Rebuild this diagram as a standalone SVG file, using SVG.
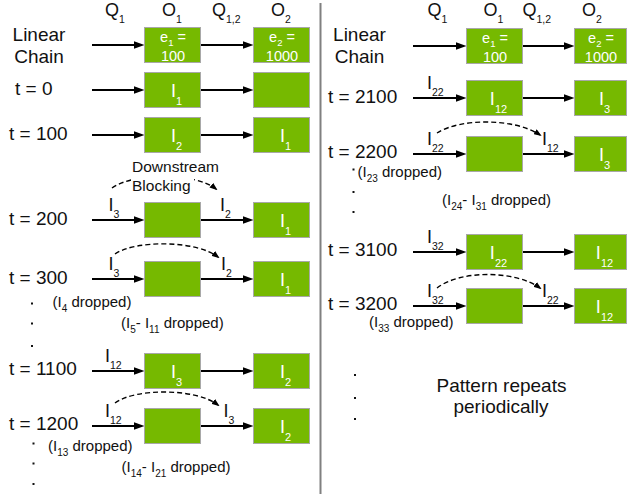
<svg xmlns="http://www.w3.org/2000/svg" width="627" height="494" viewBox="0 0 627 494">
<style>
text{font-family:"Liberation Sans",Arial,Helvetica,sans-serif;fill:#111}
.lbl{font-size:19px}
.mid{text-anchor:middle}
.hdr{font-size:18px}
.box{fill:#76b900;stroke:#a8a8a8;stroke-width:1}
text.bt{fill:#fff;font-size:18px;text-anchor:middle}
text.et{fill:#fff;font-size:14.5px;text-anchor:middle}
.al{font-size:18px}
.dr{font-size:15px}
.dot{fill:#111}
.arr{stroke:#000;stroke-width:2;fill:none;marker-end:url(#ah)}
.dash{stroke:#000;stroke-width:1.4;fill:none;stroke-dasharray:5 3;marker-end:url(#dh)}
</style>
<defs>
<marker id="ah" viewBox="0 0 11 8" refX="7" refY="4" markerWidth="11" markerHeight="8" markerUnits="userSpaceOnUse" orient="auto"><path d="M0,0 L11,4 L0,8 z" fill="#000"/></marker>
<marker id="dh" viewBox="0 0 8 6" refX="6" refY="3" markerWidth="8" markerHeight="6" markerUnits="userSpaceOnUse" orient="auto"><path d="M0,0 L8,3 L0,6 z" fill="#000"/></marker>
</defs>
<rect width="627" height="494" fill="#fff"/>
<line x1="320.5" y1="3" x2="320.5" y2="494" stroke="#808080" stroke-width="2"/>

<g id="connectors">
<line class="arr" x1="92" y1="45" x2="140.5" y2="45"/>
<line class="arr" x1="200.5" y1="45" x2="249.5" y2="45"/>
<line class="arr" x1="92" y1="90" x2="140.5" y2="90"/>
<line class="arr" x1="200.5" y1="90" x2="249.5" y2="90"/>
<line class="arr" x1="92" y1="135" x2="140.5" y2="135"/>
<line class="arr" x1="200.5" y1="135" x2="249.5" y2="135"/>
<line class="arr" x1="92" y1="220" x2="140.5" y2="220"/>
<line class="arr" x1="200.5" y1="220" x2="249.5" y2="220"/>
<line class="arr" x1="92" y1="279" x2="140.5" y2="279"/>
<line class="arr" x1="200.5" y1="279" x2="249.5" y2="279"/>
<line class="arr" x1="92" y1="371" x2="140.5" y2="371"/>
<line class="arr" x1="200.5" y1="371" x2="249.5" y2="371"/>
<line class="arr" x1="92" y1="426" x2="140.5" y2="426"/>
<line class="arr" x1="200.5" y1="426" x2="249.5" y2="426"/>
<line class="arr" x1="413" y1="46" x2="462.5" y2="46"/>
<line class="arr" x1="522.5" y1="46" x2="570.5" y2="46"/>
<line class="arr" x1="413" y1="98" x2="462.5" y2="98"/>
<line class="arr" x1="522.5" y1="98" x2="570.5" y2="98"/>
<line class="arr" x1="413" y1="154" x2="462.5" y2="154"/>
<line class="arr" x1="522.5" y1="154" x2="570.5" y2="154"/>
<line class="arr" x1="413" y1="252" x2="462.5" y2="252"/>
<line class="arr" x1="522.5" y1="252" x2="570.5" y2="252"/>
<line class="arr" x1="413" y1="306" x2="462.5" y2="306"/>
<line class="arr" x1="522.5" y1="306" x2="570.5" y2="306"/>
<path class="dash" d="M112,188 C132,173 195,172 216,189"/>
<path class="dash" d="M115,254 C135,240 196,240 218,257"/>
<path class="dash" d="M115,403 C135,388 196,388 218,405"/>
<path class="dash" d="M437,133 C460,118 515,118 540,135"/>
<path class="dash" d="M437,288 C460,270 515,270 540,288"/>
</g>

<g id="headers-left">
<text class="hdr" x="105" y="15.5">Q<tspan dy="7" font-size="10.5">1</tspan></text>
<text class="hdr" x="162" y="15.5">O<tspan dy="7" font-size="10.5">1</tspan></text>
<text class="hdr" x="212" y="15.5">Q<tspan dy="7" font-size="10.5">1,2</tspan></text>
<text class="hdr" x="271" y="15.5">O<tspan dy="7" font-size="10.5">2</tspan></text>
</g>
<g id="headers-right">
<text class="hdr" x="427.5" y="15.5">Q<tspan dy="7" font-size="10.5">1</tspan></text>
<text class="hdr" x="483.5" y="15.5">O<tspan dy="7" font-size="10.5">1</tspan></text>
<text class="hdr" x="522.5" y="15.5">Q<tspan dy="7" font-size="10.5">1,2</tspan></text>
<text class="hdr" x="582" y="15.5">O<tspan dy="7" font-size="10.5">2</tspan></text>
</g>

<g id="row-labels-left">
<text class="lbl mid" x="39" y="40.5">Linear</text>
<text class="lbl mid" x="39" y="63">Chain</text>
<text class="lbl" x="15" y="95">t = 0</text>
<text class="lbl" x="9" y="139.5">t = 100</text>
<text class="lbl" x="9" y="224.5">t = 200</text>
<text class="lbl" x="9" y="284">t = 300</text>
<text class="lbl" x="9" y="375">t = 1100</text>
<text class="lbl" x="9" y="430">t = 1200</text>
</g>
<g id="row-labels-right">
<text class="lbl mid" x="359.5" y="40.5">Linear</text>
<text class="lbl mid" x="359.5" y="63">Chain</text>
<text class="lbl" x="328" y="102.5">t = 2100</text>
<text class="lbl" x="328" y="157.5">t = 2200</text>
<text class="lbl" x="328" y="256">t = 3100</text>
<text class="lbl" x="328" y="310">t = 3200</text>
</g>

<g id="L-lc-o1"><rect class="box" x="144.5" y="27.5" width="56" height="35"/><text class="et" x="173" y="41.5">e<tspan dy="4.5" font-size="9.5">1</tspan><tspan dy="-4.5"> =</tspan></text><text class="et" x="173" y="60.5">100</text></g>
<g id="L-lc-o2"><rect class="box" x="253.5" y="27.5" width="56" height="35"/><text class="et" x="282" y="41.5">e<tspan dy="4.5" font-size="9.5">2</tspan><tspan dy="-4.5"> =</tspan></text><text class="et" x="282" y="60.5">1000</text></g>
<g id="L-t0-o1"><rect class="box" x="144.5" y="72.5" width="56" height="35"/><text class="bt" x="176.5" y="96.5">I<tspan dy="8" font-size="11">1</tspan></text></g>
<g id="L-t0-o2"><rect class="box" x="253.5" y="72.5" width="56" height="35"/></g>
<g id="L-t100-o1"><rect class="box" x="144.5" y="117.5" width="56" height="35"/><text class="bt" x="176.5" y="141.5">I<tspan dy="8" font-size="11">2</tspan></text></g>
<g id="L-t100-o2"><rect class="box" x="253.5" y="117.5" width="56" height="35"/><text class="bt" x="285.5" y="141.5">I<tspan dy="8" font-size="11">1</tspan></text></g>
<g id="L-t200-o1"><rect class="box" x="144.5" y="202.5" width="56" height="35"/></g>
<g id="L-t200-o2"><rect class="box" x="253.5" y="202.5" width="56" height="35"/><text class="bt" x="285.5" y="226.5">I<tspan dy="8" font-size="11">1</tspan></text></g>
<g id="L-t300-o1"><rect class="box" x="144.5" y="261.5" width="56" height="35"/></g>
<g id="L-t300-o2"><rect class="box" x="253.5" y="261.5" width="56" height="35"/><text class="bt" x="285.5" y="285.5">I<tspan dy="8" font-size="11">1</tspan></text></g>
<g id="L-t1100-o1"><rect class="box" x="144.5" y="353.5" width="56" height="35"/><text class="bt" x="176.5" y="377.5">I<tspan dy="8" font-size="11">3</tspan></text></g>
<g id="L-t1100-o2"><rect class="box" x="253.5" y="353.5" width="56" height="35"/><text class="bt" x="285.5" y="377.5">I<tspan dy="8" font-size="11">2</tspan></text></g>
<g id="L-t1200-o1"><rect class="box" x="144.5" y="408.5" width="56" height="35"/></g>
<g id="L-t1200-o2"><rect class="box" x="253.5" y="408.5" width="56" height="35"/><text class="bt" x="285.5" y="432.5">I<tspan dy="8" font-size="11">2</tspan></text></g>

<g id="R-lc-o1"><rect class="box" x="466.5" y="28.5" width="56" height="35"/><text class="et" x="495" y="42.5">e<tspan dy="4.5" font-size="9.5">1</tspan><tspan dy="-4.5"> =</tspan></text><text class="et" x="495" y="61.5">100</text></g>
<g id="R-lc-o2"><rect class="box" x="574.5" y="28.5" width="52" height="35"/><text class="et" x="601" y="42.5">e<tspan dy="4.5" font-size="9.5">2</tspan><tspan dy="-4.5"> =</tspan></text><text class="et" x="601" y="61.5">1000</text></g>
<g id="R-t2100-o1"><rect class="box" x="466.5" y="80.5" width="56" height="35"/><text class="bt" x="498.5" y="104.5">I<tspan dy="8" font-size="11">12</tspan></text></g>
<g id="R-t2100-o2"><rect class="box" x="574.5" y="80.5" width="52" height="35"/><text class="bt" x="604.5" y="104.5">I<tspan dy="8" font-size="11">3</tspan></text></g>
<g id="R-t2200-o1"><rect class="box" x="466.5" y="136.5" width="56" height="35"/></g>
<g id="R-t2200-o2"><rect class="box" x="574.5" y="136.5" width="52" height="35"/><text class="bt" x="604.5" y="160.5">I<tspan dy="8" font-size="11">3</tspan></text></g>
<g id="R-t3100-o1"><rect class="box" x="466.5" y="234.5" width="56" height="35"/><text class="bt" x="498.5" y="258.5">I<tspan dy="8" font-size="11">22</tspan></text></g>
<g id="R-t3100-o2"><rect class="box" x="574.5" y="234.5" width="52" height="35"/><text class="bt" x="604.5" y="258.5">I<tspan dy="8" font-size="11">12</tspan></text></g>
<g id="R-t3200-o1"><rect class="box" x="466.5" y="288.5" width="56" height="35"/></g>
<g id="R-t3200-o2"><rect class="box" x="574.5" y="288.5" width="52" height="35"/><text class="bt" x="604.5" y="312.5">I<tspan dy="8" font-size="11">12</tspan></text></g>

<g id="arrow-labels">
<text class="al" x="108.5" y="210.5">I<tspan dy="7.5" font-size="10.5">3</tspan></text>
<text class="al" x="220" y="210.5">I<tspan dy="7.5" font-size="10.5">2</tspan></text>
<text class="al" x="108.5" y="269.5">I<tspan dy="7.5" font-size="10.5">3</tspan></text>
<text class="al" x="221" y="269.5">I<tspan dy="7.5" font-size="10.5">2</tspan></text>
<text class="al" x="105" y="361.5">I<tspan dy="7.5" font-size="10.5">12</tspan></text>
<text class="al" x="105" y="416.5">I<tspan dy="7.5" font-size="10.5">12</tspan></text>
<text class="al" x="223.5" y="416.5">I<tspan dy="7.5" font-size="10.5">3</tspan></text>
<text class="al" x="427" y="88.5">I<tspan dy="7.5" font-size="10.5">22</tspan></text>
<text class="al" x="427" y="144.5">I<tspan dy="7.5" font-size="10.5">22</tspan></text>
<text class="al" x="542" y="144.5">I<tspan dy="7.5" font-size="10.5">12</tspan></text>
<text class="al" x="427" y="242.5">I<tspan dy="7.5" font-size="10.5">32</tspan></text>
<text class="al" x="427" y="296.5">I<tspan dy="7.5" font-size="10.5">32</tspan></text>
<text class="al" x="542" y="296.5">I<tspan dy="7.5" font-size="10.5">22</tspan></text>
</g>

<g id="downstream-blocking">
<rect x="131" y="159" width="90" height="17" fill="#fff"/>
<rect x="131" y="176" width="63" height="20" fill="#fff"/>
<text x="132" y="172" font-size="15.5">Downstream</text>
<text x="132" y="191" font-size="15.5">Blocking</text>
</g>

<g id="dropped-notes">
<text class="dr" x="52.5" y="307">(I<tspan dy="5" font-size="10">4</tspan><tspan dy="-5"> dropped)</tspan></text>
<text class="dr" x="121" y="328">(I<tspan dy="5" font-size="10">5</tspan><tspan dy="-5">- I</tspan><tspan dy="5" font-size="10">11</tspan><tspan dy="-5"> dropped)</tspan></text>
<text class="dr" x="48" y="451">(I<tspan dy="5" font-size="10">13</tspan><tspan dy="-5"> dropped)</tspan></text>
<text class="dr" x="121.5" y="472">(I<tspan dy="5" font-size="10">14</tspan><tspan dy="-5">- I</tspan><tspan dy="5" font-size="10">21</tspan><tspan dy="-5"> dropped)</tspan></text>
<text class="dr" x="357.5" y="177">(I<tspan dy="5" font-size="10">23</tspan><tspan dy="-5"> dropped)</tspan></text>
<text class="dr" x="442" y="205">(I<tspan dy="5" font-size="10">24</tspan><tspan dy="-5">- I</tspan><tspan dy="5" font-size="10">31</tspan><tspan dy="-5"> dropped)</tspan></text>
<text class="dr" x="369" y="327">(I<tspan dy="5" font-size="10">33</tspan><tspan dy="-5"> dropped)</tspan></text>
</g>

<g id="ellipsis-dots">
<rect class="dot" x="31" y="302.5" width="2" height="2"/>
<rect class="dot" x="31" y="322.5" width="2" height="2"/>
<rect class="dot" x="31" y="345" width="2" height="2"/>
<rect class="dot" x="32.5" y="442.5" width="2" height="2"/>
<rect class="dot" x="32.5" y="462.5" width="2" height="2"/>
<rect class="dot" x="32.5" y="483" width="2" height="2"/>
<rect class="dot" x="352.5" y="168.5" width="2" height="2"/>
<rect class="dot" x="352.5" y="191" width="2" height="2"/>
<rect class="dot" x="352.5" y="211" width="2" height="2"/>
<rect class="dot" x="354" y="374" width="2" height="2"/>
<rect class="dot" x="354" y="397" width="2" height="2"/>
<rect class="dot" x="354" y="418" width="2" height="2"/>
</g>

<g id="pattern-note">
<text class="lbl mid" x="501.5" y="392">Pattern repeats</text>
<text class="lbl mid" x="501" y="413">periodically</text>
</g>
</svg>
